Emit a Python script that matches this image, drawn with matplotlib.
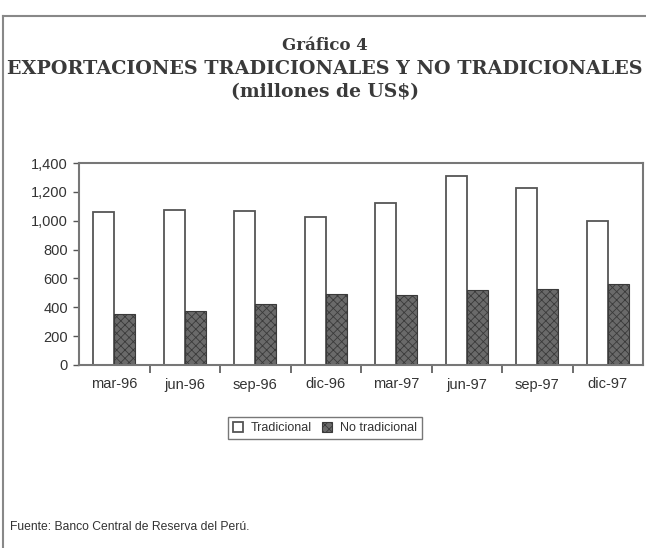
import numpy as np
from matplotlib import pyplot as plt
from matplotlib.ticker import FuncFormatter, FixedLocator

# quarters and values (millones de US$)
periodos = ["mar-96", "jun-96", "sep-96", "dic-96", "mar-97", "jun-97", "sep-97", "dic-97"]
tradicional = [1060, 1075, 1065, 1025, 1120, 1310, 1225, 1000]
no_tradicional = [355, 375, 425, 490, 485, 520, 530, 560]

plt.rcParams['hatch.linewidth'] = 0.6
plt.rcParams['hatch.color'] = '#2a2a2a'
plt.rcParams['font.family'] = ['Liberation Sans', 'DejaVu Sans']

fig = plt.figure(figsize=(6.46, 5.48), dpi=100)
W, H = 646, 548
ax = fig.add_axes([79 / W, 1 - 365 / H, (643 - 79) / W, (365 - 163) / H])

x = np.arange(len(periodos))
w = 0.3
ax.bar(x - w / 2, tradicional, w, color='white', edgecolor='#555555', linewidth=1.3, label='Tradicional')
ax.bar(x + w / 2, no_tradicional, w, color='#6a6a6a', edgecolor='#3a3a3a', linewidth=0.8,
       hatch='xxxx', label='No tradicional')

ax.set_xlim(-0.5, len(periodos) - 0.5)
ax.set_ylim(0, 1400)
ax.set_yticks(np.arange(0, 1401, 200))
ax.yaxis.set_major_formatter(FuncFormatter(lambda v, p: f"{int(v):,}"))
ax.set_xticks(x)
ax.set_xticklabels(periodos)
ax.tick_params(axis='x', length=0, pad=9, labelsize=10.5, colors='#333333')
ax.xaxis.set_minor_locator(FixedLocator(np.arange(0.5, len(periodos) - 1, 1)))
ax.tick_params(axis='x', which='minor', length=6, width=1.2, color='#555555', direction='out')
ax.tick_params(axis='y', length=4, width=1, color='#555555', labelsize=10.5, labelcolor='#333333', pad=4)
for s in ax.spines.values():
    s.set_color('#777777')
    s.set_linewidth(1.5)

leg = fig.legend(*ax.get_legend_handles_labels(), loc='center', bbox_to_anchor=(325 / W, 1 - 428 / H),
                 ncol=2, frameon=True, fancybox=False, edgecolor='#555555', fontsize=9,
                 handlelength=0.8, handleheight=0.9, handletextpad=0.6, columnspacing=0.8, borderpad=0.4)
leg.get_frame().set_linewidth(1.0)
for t in leg.get_texts():
    t.set_color('#333333')

serif = ['DejaVu Serif']
fig.text(325 / W, 1 - 46 / H, "Gráfico 4", ha='center', va='center', fontsize=12, fontweight='bold',
         family=serif, color='#3a3a3a')
fig.text(325 / W, 1 - 69 / H, "EXPORTACIONES TRADICIONALES Y NO TRADICIONALES", ha='center', va='center',
         fontsize=13.8, fontweight='bold', family=serif, color='#3a3a3a')
fig.text(325 / W, 1 - 92 / H, "(millones de US$)", ha='center', va='center', fontsize=13.5, fontweight='bold',
         family=serif, color='#3a3a3a')
fig.text(10 / W, 1 - 527 / H, "Fuente: Banco Central de Reserva del Perú.", ha='left', va='center',
         fontsize=8.7, color='#333333')

# page frame from the scan
fig.add_artist(plt.Line2D([3 / W, 3 / W], [0, 1 - 16 / H], color='#888888', lw=1.5))
fig.add_artist(plt.Line2D([3 / W, 1], [1 - 16 / H, 1 - 16 / H], color='#888888', lw=1.5))

fig.savefig("out.png", dpi=100)
